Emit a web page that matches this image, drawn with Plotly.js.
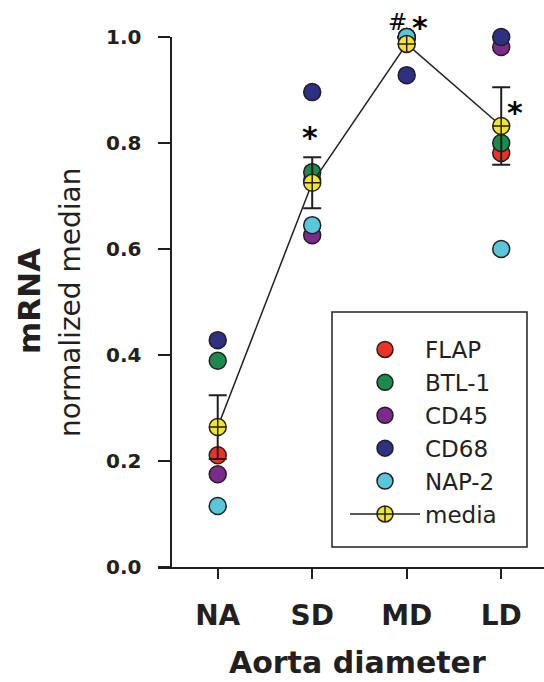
<!DOCTYPE html>
<html>
<head>
<meta charset="utf-8">
<script src="https://cdn.plot.ly/plotly-3.0.1.min.js"></script>
<style>html,body{margin:0;padding:0;background:#fff;}#chart{width:544px;height:682px;}</style>
</head>
<body>
<div id="chart"></div>
<script>
// ---- data ----
const categories = ['NA', 'SD', 'MD', 'LD'];
const catIndex = [0, 1, 2, 3];
const seriesNames = ['FLAP', 'BTL-1', 'CD45', 'CD68', 'NAP-2'];
const flap  = [0.211, 0.730, 1.000, 0.781];
const btl1  = [0.389, 0.745, 1.000, 0.800];
const cd45  = [0.175, 0.626, 1.000, 0.981];
const cd68  = [0.428, 0.896, 0.928, 1.000];
const nap2  = [0.115, 0.645, 1.000, 0.600];
const media = [0.264, 0.725, 0.987, 0.832];
const mediaErr = [0.060, 0.048, null, 0.073];
const yTickVals = [0, 0.2, 0.4, 0.6, 0.8, 1.0];
const yTickText = ['0.0', '0.2', '0.4', '0.6', '0.8', '1.0'];

// ---- styling ----
const dark = '#231f20';
const FONT = 'DejaVu Sans, Arial, sans-serif';
const colors = ['#ee3124', '#1b8a4a', '#7d2a8f', '#2e3081', '#58c7dc'];
const seriesData = [flap, btl1, cd45, cd68, nap2];

const traces = seriesData.map((vals, i) => ({
  type: 'scatter', mode: 'markers', name: seriesNames[i],
  x: catIndex, y: vals, cliponaxis: false,
  marker: {size: 17, color: colors[i], line: {color: dark, width: 1.5}}
}));
traces.push({
  type: 'scatter', mode: 'lines+markers', name: 'media',
  x: catIndex, y: media, cliponaxis: false,
  line: {color: dark, width: 1.5},
  marker: {size: 17, symbol: 'circle-cross', color: '#f2e52b', line: {color: dark, width: 1.5}},
  error_y: {type: 'data', array: mediaErr, visible: true, color: dark, thickness: 2, width: 9}
});

const L = 158, T = 37, W = 544, H = 682, B = 115;
const pw = W - L, ph = H - T - B;
const px2paperX = p => (p - L) / pw;
const px2paperY = p => (H - B - p) / ph;

const layout = {
  width: W, height: H,
  margin: {l: L, r: 0, t: T, b: B},
  paper_bgcolor: '#fff', plot_bgcolor: '#fff',
  showlegend: true,
  font: {family: FONT, color: dark},
  xaxis: {
    range: [-0.632, 3.453], showgrid: false, zeroline: false,
    showline: true, linecolor: dark, linewidth: 2,
    ticks: 'outside', ticklen: 10, tickwidth: 2, tickcolor: dark,
    tickvals: catIndex, ticktext: categories,
    tickfont: {family: FONT, size: 28, color: dark, weight: 'bold'},
    ticklabelstandoff: 12
  },
  yaxis: {
    range: [0, 1], anchor: 'free', position: px2paperX(170.5),
    showgrid: false, zeroline: false,
    showline: true, linecolor: dark, linewidth: 2,
    ticks: 'outside', ticklen: 12, tickwidth: 2, tickcolor: dark,
    tickvals: yTickVals, ticktext: yTickText,
    tickfont: {family: FONT, size: 20, color: dark, weight: 'bold'},
    ticklabelstandoff: 12
  },
  legend: {
    x: px2paperX(345), y: px2paperY(328), xanchor: 'left', yanchor: 'top',
    bgcolor: 'rgba(0,0,0,0)', borderwidth: 0,
    font: {family: FONT, size: 23, color: dark},
    itemwidth: 70, tracegroupgap: 0
  },
  shapes: [{
    type: 'rect', xref: 'paper', yref: 'paper',
    x0: px2paperX(332), x1: px2paperX(527), y0: px2paperY(547), y1: px2paperY(312),
    line: {color: dark, width: 1.5}, fillcolor: 'rgba(0,0,0,0)'
  }],
  annotations: [
    {text: 'Aorta diameter', xref: 'paper', yref: 'paper', x: px2paperX(357), y: px2paperY(662),
     xanchor: 'center', yanchor: 'middle', showarrow: false,
     font: {family: FONT, size: 30, color: dark, weight: 'bold'}},
    {text: 'mRNA', xref: 'paper', yref: 'paper', x: px2paperX(29), y: px2paperY(301),
     xanchor: 'center', yanchor: 'middle', showarrow: false, textangle: -90,
     font: {family: FONT, size: 31, color: dark, weight: 'bold'}},
    {text: 'normalized median', xref: 'paper', yref: 'paper', x: px2paperX(70), y: px2paperY(303),
     xanchor: 'center', yanchor: 'middle', showarrow: false, textangle: -90,
     font: {family: FONT, size: 28, color: dark}},
    {text: '*', xref: 'x', yref: 'paper', x: 0.98, y: px2paperY(138),
     xanchor: 'center', yanchor: 'middle', showarrow: false,
     font: {family: FONT, size: 30, color: '#000', weight: 'bold'}},
    {text: '#', xref: 'x', yref: 'paper', x: 1.90, y: px2paperY(22),
     xanchor: 'center', yanchor: 'middle', showarrow: false,
     font: {family: FONT, size: 23, color: '#000'}},
    {text: '*', xref: 'x', yref: 'paper', x: 2.14, y: px2paperY(27),
     xanchor: 'center', yanchor: 'middle', showarrow: false,
     font: {family: FONT, size: 30, color: '#000', weight: 'bold'}},
    {text: '*', xref: 'x', yref: 'paper', x: 3.147, y: px2paperY(113),
     xanchor: 'center', yanchor: 'middle', showarrow: false,
     font: {family: FONT, size: 30, color: '#000', weight: 'bold'}}
  ]
};

Plotly.newPlot('chart', traces, layout, {staticPlot: true, displayModeBar: false});
</script>
</body>
</html>
